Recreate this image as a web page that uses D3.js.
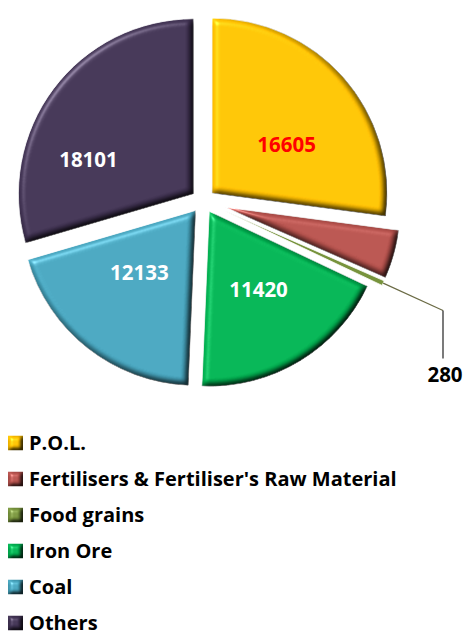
<!DOCTYPE html>
<html>
<head>
<meta charset="utf-8">
<script src="https://cdn.jsdelivr.net/npm/d3@7/dist/d3.min.js"></script>
<style>
  html, body { margin: 0; padding: 0; background: #fff; }
  svg { display: block; }
  text { font-family: "Open Sans", Lato, "DejaVu Sans", sans-serif; font-weight: 700; }
</style>
</head>
<body>
<svg id="chart" width="466" height="636"></svg>
<script>
// Cargo traffic by commodity
const categories = ["P.O.L.", "Fertilisers & Fertiliser's Raw Material", "Food grains", "Iron Ore", "Coal", "Others"];
const values = [16605, 2750, 280, 11420, 12133, 18101];
const colors = ["#FFC000", "#B4504B", "#77933C", "#00B050", "#45A2BB", "#3F3151"];
const labelColors = ["#FF0000", null, "#000000", "#FFFFFF", "#FFFFFF", "#FFFFFF"];

// layout
const W = 466, H = 636;
const cx = 203, cy = 201, R = 175;
const explode = [12, 23, 23, 12, 12, 12];
// label placement inside each slice: [angle shift in degrees, radius fraction]
const labelPlace = [[8, 0.51], null, null, [-1, 0.53], [4, 0.48], [-19, 0.63]];

const data = categories.map((c, i) => ({ name: c, value: values[i], color: colors[i], i }));

const svg = d3.select("#chart");
const defs = svg.append("defs");

// bevel look: diffuse lighting multiplied in, specular highlight added
function bevel(id, blur, scale) {
  const f = defs.append("filter").attr("id", id)
    .attr("x", "-5%").attr("y", "-5%").attr("width", "110%").attr("height", "110%")
    .attr("color-interpolation-filters", "sRGB");
  f.append("feGaussianBlur").attr("in", "SourceAlpha").attr("stdDeviation", blur).attr("result", "b");
  const dl = f.append("feDiffuseLighting").attr("in", "b").attr("surfaceScale", scale)
    .attr("diffuseConstant", 1.15).attr("lighting-color", "#fff").attr("result", "d");
  dl.append("feDistantLight").attr("azimuth", 225).attr("elevation", 60);
  const sl = f.append("feSpecularLighting").attr("in", "b").attr("surfaceScale", scale)
    .attr("specularConstant", 0.7).attr("specularExponent", 22).attr("lighting-color", "#fff").attr("result", "s");
  sl.append("feDistantLight").attr("azimuth", 225).attr("elevation", 40);
  f.append("feComposite").attr("in", "SourceGraphic").attr("in2", "d")
    .attr("operator", "arithmetic").attr("k1", 1).attr("result", "lit");
  f.append("feComposite").attr("in", "s").attr("in2", "SourceAlpha").attr("operator", "in").attr("result", "sIn");
  f.append("feComposite").attr("in", "lit").attr("in2", "sIn")
    .attr("operator", "arithmetic").attr("k2", 1).attr("k3", 0.45).attr("result", "out");
  f.append("feComposite").attr("in", "out").attr("in2", "SourceAlpha").attr("operator", "in");
}
bevel("bevel", 3, 5);
bevel("bevelSmall", 2.2, 4);

const pie = d3.pie().sort(null).value(d => d.value);
const arcs = pie(data);
const arc = d3.arc().innerRadius(0).outerRadius(R);

const g = svg.append("g").attr("transform", `translate(${cx},${cy})`);

function offsetOf(a) {
  const mid = (a.startAngle + a.endAngle) / 2;
  const e = explode[a.index];
  return [Math.sin(mid) * e, -Math.cos(mid) * e];
}

g.selectAll("path.slice").data(arcs).join("path")
  .attr("class", "slice")
  .attr("transform", d => { const o = offsetOf(d); return `translate(${o[0]},${o[1]})`; })
  .attr("d", arc)
  .attr("fill", d => d.data.color)
  .attr("stroke", "#fff").attr("stroke-width", 0.8)
  .attr("filter", d => d.index === 2 ? null : "url(#bevel)");

// labels inside slices
arcs.forEach(a => {
  const lp = labelPlace[a.index];
  if (!lp) return;
  const o = offsetOf(a);
  const ang = (a.startAngle + a.endAngle) / 2 + lp[0] * Math.PI / 180;
  const r = R * lp[1];
  g.append("text")
    .attr("x", o[0] + Math.sin(ang) * r)
    .attr("y", o[1] - Math.cos(ang) * r)
    .attr("text-anchor", "middle").attr("dy", "0.36em")
    .attr("font-size", 20.5)
    .attr("fill", labelColors[a.index])
    .text(d3.format("d")(a.data.value));
});

// leader line and outside label for the thin slice
{
  const a = arcs[2];
  const o = offsetOf(a);
  const mid = (a.startAngle + a.endAngle) / 2;
  const ux = Math.sin(mid), uy = -Math.cos(mid);
  const p0 = [o[0] + ux * R, o[1] + uy * R];
  const elbowX = 240;
  const t = (elbowX - o[0]) / ux;
  const p1 = [elbowX, o[1] + uy * t];
  const p2 = [elbowX, p1[1] + 48];
  g.append("path")
    .attr("d", `M${p0[0]},${p0[1]}L${p1[0]},${p1[1]}`)
    .attr("fill", "none").attr("stroke", "#6b6b45").attr("stroke-width", 1.2);
  g.append("path")
    .attr("d", `M${p1[0]},${p1[1]}L${p2[0]},${p2[1]}`)
    .attr("fill", "none").attr("stroke", "#222").attr("stroke-width", 1.2);
  g.append("text")
    .attr("x", p2[0] + 2).attr("y", 375 - cy)
    .attr("text-anchor", "middle").attr("dy", "0.36em")
    .attr("font-size", 20.5).attr("fill", labelColors[2])
    .text(d3.format("d")(a.data.value));
}

// legend
const legendY = d3.scalePoint().domain(categories).range([443, 623]);
const lg = svg.append("g");
const rows = lg.selectAll("g").data(data).join("g")
  .attr("transform", d => `translate(0,${legendY(d.name)})`);
rows.append("rect")
  .attr("x", 8).attr("y", -7.5).attr("width", 15).attr("height", 15)
  .attr("fill", d => d.color)
  .attr("filter", "url(#bevelSmall)");
rows.append("text")
  .attr("x", 29).attr("dy", "0.36em")
  .attr("font-size", 20).attr("fill", "#000")
  .text(d => d.name);
</script>
</body>
</html>
